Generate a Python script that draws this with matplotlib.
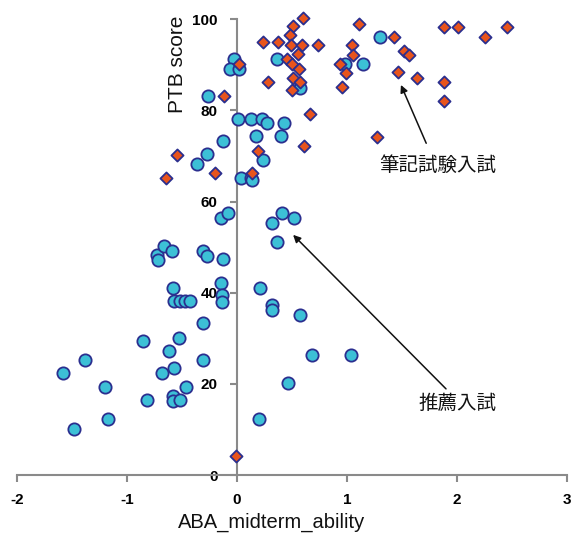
import matplotlib
matplotlib.use("Agg")
import matplotlib.pyplot as plt

# 推薦入試 (circles)
rec_x = [-1.58, -1.38, -1.20, -1.48, -1.17, -0.82, -0.68, -0.57, -0.62, -0.31,
         -0.46, -0.58, -0.58, -0.52, -0.855, -0.53, -0.305, -0.58, -0.57, -0.52,
         -0.47, -0.43, -0.145, -0.14, -0.14, -0.73, -0.72, -0.66, -0.59, -0.31,
         -0.27, -0.13, 0.21, 0.315, 0.315, 0.57, 0.68, 1.04, 0.465, 0.20,
         0.36, -0.15, -0.08, 0.315, 0.41, 0.52, 0.04, 0.13, 0.14, 0.233,
         -0.365, -0.27, -0.124, 0.17, 0.40, 0.005, 0.13, 0.23, 0.275, 0.43,
         -0.26, -0.03, -0.065, 0.02, 0.36, 0.57, 0.98, 1.145, 1.30]
rec_y = [22.3, 25.2, 19.3, 10.2, 12.3, 16.5, 22.3, 23.4, 27.2, 25.2,
         19.3, 17.3, 16.3, 16.5, 29.4, 30.0, 33.4, 41.1, 38.2, 38.2,
         38.2, 38.2, 42.2, 39.6, 38.0, 48.3, 47.2, 50.3, 49.2, 49.2,
         48.1, 47.3, 41.1, 37.2, 36.2, 35.2, 26.3, 26.3, 20.1, 12.3,
         51.1, 56.3, 57.4, 55.2, 57.4, 56.3, 65.2, 65.1, 64.7, 69.2,
         68.2, 70.4, 73.3, 74.4, 74.4, 78.1, 78.1, 78.1, 77.3, 77.3,
         83.2, 91.4, 89.0, 89.0, 91.2, 85.0, 90.3, 90.3, 96.2]

# 筆記試験入試 (diamonds)
exam_x = [-0.01, -0.547, -0.646, -0.20, -0.12, 0.188, 0.133, 0.018, 0.28, 0.24,
          0.375, 0.45, 0.51, 0.60, 0.48, 0.49, 0.59, 0.74, 0.55, 0.50,
          0.56, 0.51, 0.57, 0.50, 0.66, 0.61, 1.11, 1.045, 1.055, 0.934,
          0.994, 0.955, 1.43, 1.52, 1.56, 1.46, 1.64, 1.27, 1.88, 2.01,
          2.25, 2.45, 1.88, 1.88]
exam_y = [4.2, 70.2, 65.1, 66.2, 83.2, 71.2, 66.2, 90.3, 86.3, 95.1,
          95.1, 91.2, 98.5, 100.2, 96.6, 94.4, 94.4, 94.4, 92.3, 90.3,
          89.0, 87.1, 86.3, 84.5, 79.3, 72.2, 99.0, 94.4, 92.2, 90.3,
          88.3, 85.1, 96.2, 93.1, 92.2, 88.4, 87.2, 74.2, 98.4, 98.4,
          96.2, 98.4, 86.2, 82.1]

x_ticks = [-2, -1, 0, 1, 2, 3]
y_ticks = [0, 20, 40, 60, 80, 100]

plt.rcParams['font.family'] = ['Liberation Sans', 'Noto Sans CJK JP', 'DejaVu Sans']

fig = plt.figure(figsize=(5.72, 5.38), dpi=100)
ax = fig.add_axes([0.0297, 0.1171, 0.9616, 0.847])

edge = '#2B2F8F'
ax.scatter(rec_x, rec_y, s=78, marker='o', facecolor='#3CC0D6', edgecolor=edge,
           linewidth=1.3, zorder=3, clip_on=False)
ax.scatter(exam_x, exam_y, s=38, marker='D', facecolor='#E8541C', edgecolor=edge,
           linewidth=1.3, zorder=4, clip_on=False)

ax.set_xlim(-2, 3)
ax.set_ylim(0, 100)
ax.spines['top'].set_visible(False)
ax.spines['right'].set_visible(False)
ax.spines['left'].set_position(('data', 0))
for s in ('left', 'bottom'):
    ax.spines[s].set_color('#8a8a8a')
    ax.spines[s].set_linewidth(1.5)
    ax.spines[s].set_zorder(2)
ax.set_xticks(x_ticks)
ax.set_yticks(y_ticks)
ax.set_xticklabels([str(t) for t in x_ticks], fontsize=11, fontweight='bold')
ax.set_yticklabels([str(t) for t in y_ticks], fontsize=11, fontweight='bold')
ax.tick_params(axis='both', direction='out', length=5, width=1.5, color='#8a8a8a')
ax.tick_params(axis='y', pad=9)
ax.tick_params(axis='x', pad=8)

ax.text(-0.545, 100.8, 'PTB score', rotation=90, ha='center', va='top',
        fontsize=15, color='#111111')
fig.text(272 / 572, 1 - 522 / 538, 'ABA_midterm_ability', ha='center', va='center',
         fontsize=14.5, color='#111111')

arrow = dict(arrowstyle='-|>', color='#111111', lw=1.1, mutation_scale=11,
             shrinkA=0, shrinkB=0)
ax.annotate('', xy=(1.49, 85.6), xytext=(1.72, 72.8), arrowprops=arrow)
ax.annotate('', xy=(0.51, 52.7), xytext=(1.90, 18.9), arrowprops=arrow)
ax.text(1.82, 68.0, '筆記試験入試', ha='center', va='center', fontsize=14,
        family=['Noto Sans CJK JP', 'DejaVu Sans'], color='#111111')
ax.text(2.0, 15.7, '推薦入試', ha='center', va='center', fontsize=14,
        family=['Noto Sans CJK JP', 'DejaVu Sans'], color='#111111')

fig.savefig('out.png', dpi=100)
